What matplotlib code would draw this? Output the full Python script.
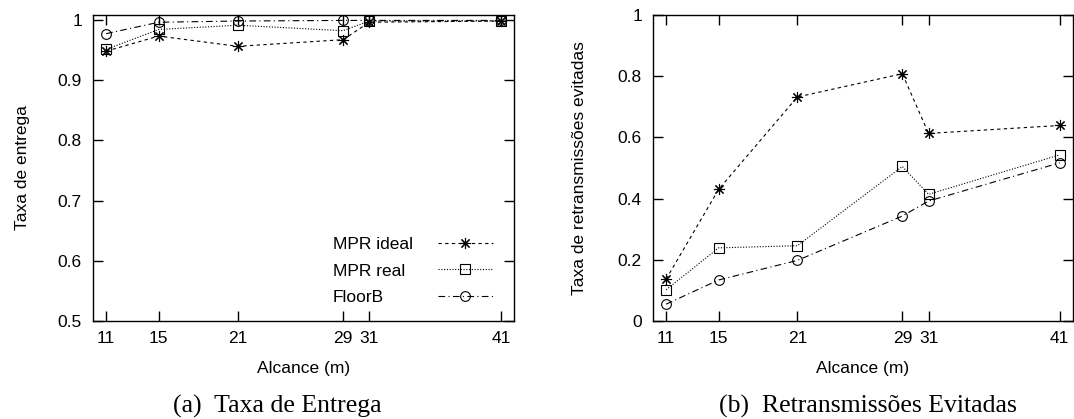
import matplotlib
matplotlib.use("Agg")
import matplotlib.pyplot as plt

# ---- data ----
alcance = [11, 15, 21, 29, 31, 41]
xtick_labels = ["11", "15", "21", "29", "31", "41"]

entrega_mpr_ideal = [0.948, 0.973, 0.956, 0.967, 0.996, 0.998]
entrega_mpr_real = [0.951, 0.984, 0.991, 0.982, 0.998, 0.998]
entrega_floorb = [0.977, 0.996, 0.998, 0.999, 0.999, 0.999]

evit_mpr_ideal = [0.137, 0.430, 0.732, 0.808, 0.613, 0.639]
evit_mpr_real = [0.102, 0.239, 0.246, 0.505, 0.414, 0.543]
evit_floorb = [0.055, 0.134, 0.198, 0.343, 0.392, 0.517]

series_names = ["MPR ideal", "MPR real", "FloorB"]

left_yticks = [0.5, 0.6, 0.7, 0.8, 0.9, 1.0]
left_yticklabels = ["0.5", "0.6", "0.7", "0.8", "0.9", "1"]
right_yticks = [0, 0.2, 0.4, 0.6, 0.8, 1.0]
right_yticklabels = ["0", "0.2", "0.4", "0.6", "0.8", "1"]

plt.rcParams["font.family"] = ["Liberation Sans", "DejaVu Sans"]
FS = 12.5
DPI = 100

fig = plt.figure(figsize=(10.74, 4.19), dpi=DPI)
axL = fig.add_axes([0.0866, 0.2339, 0.392, 0.7303])
axR = fig.add_axes([0.608, 0.2339, 0.391, 0.7303])

styles = [
    dict(linestyle=(0, (3, 3)), marker=(8, 2, 0), markersize=8, markerfacecolor="none"),
    dict(linestyle=(0, (1, 1.5)), marker="s", markersize=7, markerfacecolor="none"),
    dict(linestyle=(0, (6, 3, 1, 3)), marker="o", markersize=7, markerfacecolor="none"),
]

common = dict(color="black", linewidth=0.8, markeredgewidth=0.8)

for ax, data in [(axL, [entrega_mpr_ideal, entrega_mpr_real, entrega_floorb]),
                 (axR, [evit_mpr_ideal, evit_mpr_real, evit_floorb])]:
    for name, vals, st in zip(series_names, data, styles):
        ax.plot(alcance, vals, label=name, **st, **common)
    ax.set_xlim(10, 42)
    ax.set_xticks(alcance)
    ax.set_xticklabels(xtick_labels)
    ax.tick_params(direction="in", top=True, right=True, length=7, width=1.0,
                   labelsize=FS)
    ax.tick_params(axis="x", pad=7)
    ax.tick_params(axis="y", pad=8)
    for s in ax.spines.values():
        s.set_linewidth(1.0)
    ax.set_xlabel("Alcance (m)", fontsize=FS, labelpad=11)

axL.set_ylim(0.5, 1.008)
axL.set_yticks(left_yticks)
axL.set_yticklabels(left_yticklabels)
axL.set_ylabel("Taxa de entrega", fontsize=FS)
axL.yaxis.set_label_coords(-0.168, 0.5)

axR.set_ylim(0, 1.0)
axR.set_yticks(right_yticks)
axR.set_yticklabels(right_yticklabels)
axR.set_ylabel("Taxa de retransmissões evitadas", fontsize=FS)
axR.yaxis.set_label_coords(-0.176, 0.5)
for ax in (axL, axR):
    ax.yaxis.label.set_va("center")

leg = axL.legend(loc="lower right", markerfirst=False, frameon=False, fontsize=FS,
                 handlelength=3.17, handletextpad=1.44, labelspacing=0.64,
                 borderpad=0, borderaxespad=0, bbox_to_anchor=(0.950, 0.053))

# left-align legend labels (gnuplot style) while keeping samples aligned
fig.canvas.draw()
renderer = fig.canvas.get_renderer()
widths = [t.get_window_extent(renderer).width for t in leg.get_texts()]
maxw = max(widths)
for col in leg._legend_handle_box.get_children():
    col.align = "left"
    for item, w in zip(col.get_children(), widths):
        item.sep = item.sep + (maxw - w) * 72.0 / DPI

fig.text(0.258, 0.030, "(a)  Taxa de Entrega", ha="center", va="center",
         fontsize=18.5, family=["Liberation Serif", "DejaVu Serif"])
fig.text(0.808, 0.030, "(b)  Retransmissões Evitadas", ha="center", va="center",
         fontsize=18.5, family=["Liberation Serif", "DejaVu Serif"])

fig.savefig("out.png", dpi=DPI)
